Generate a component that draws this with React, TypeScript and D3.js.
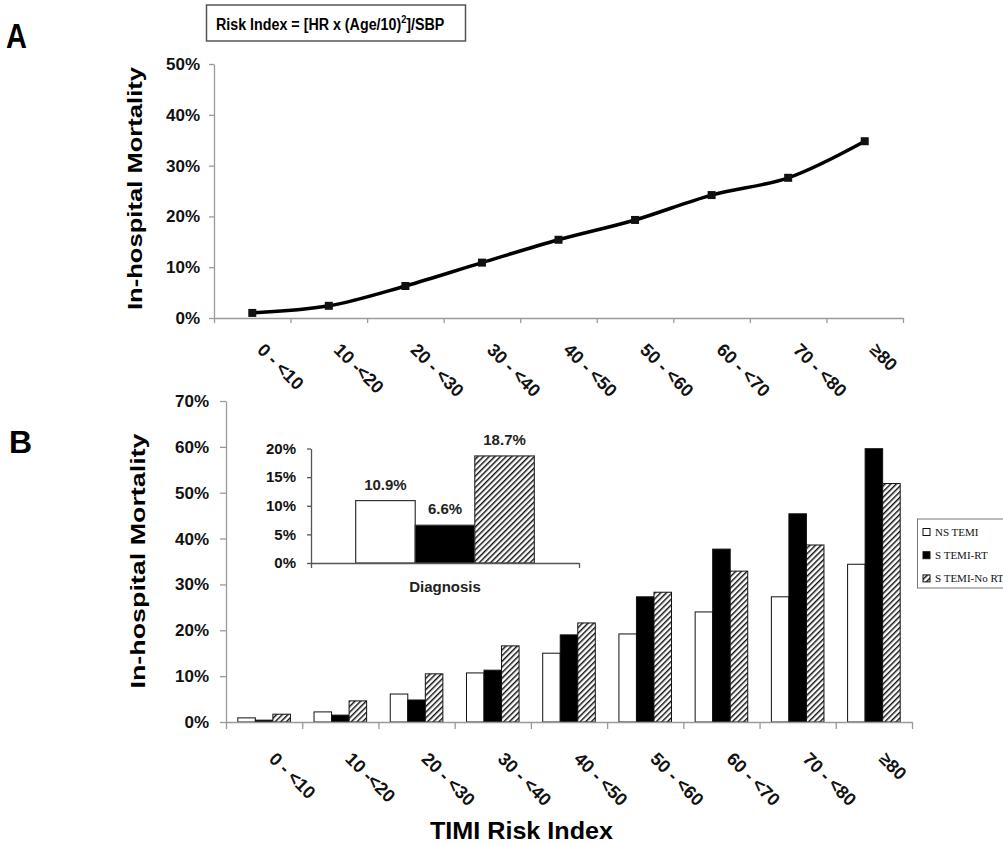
import * as d3 from "d3";
import React, { useEffect, useRef } from "react";

// TIMI risk index categories (shared by both panels)
const riskCats = ["0 - <10", "10 -<20", "20 - <30", "30 - <40", "40 - <50", "50 - <60", "60 - <70", "70 - <80", "≥80"];

// panel A: overall in-hospital mortality, %
const overallMortality = [1.0, 2.4, 6.3, 10.9, 15.4, 19.3, 24.2, 27.6, 34.8];

// panel B: mortality by diagnosis, %
const seriesKeys = ["nstemi", "stemiRt", "stemiNoRt"];
const seriesLabels = ["NS TEMI", "S TEMI-RT", "S TEMI-No RT"];
const nstemi = [0.9, 2.2, 6.1, 10.7, 15.0, 19.2, 24.0, 27.3, 34.4];
const stemiRt = [0.4, 1.5, 4.8, 11.3, 19.0, 27.3, 37.7, 45.4, 59.6];
const stemiNoRt = [1.7, 4.6, 10.5, 16.6, 21.6, 28.3, 32.9, 38.6, 52.0];

// inset: overall by diagnosis
const insetCat = ["Diagnosis"];
const diagnosisMortality = [10.9, 6.6, 18.7];
const diagnosisLabels = ["10.9%", "6.6%", "18.7%"];

const yTicksA = [0, 10, 20, 30, 40, 50];
const yTicksB = [0, 10, 20, 30, 40, 50, 60, 70];
const yTicksInset = [0, 5, 10, 15, 20];

const W = 1003;
const H = 845;
const AXIS = "#9a9a9a";
const FONT = "'Liberation Sans', Arial, sans-serif";

export default function App() {
  const ref = useRef(null);

  useEffect(() => {
    const svg = d3.select(ref.current);
    svg.selectAll("*").remove();

    // hatch pattern
    const defs = svg.append("defs");
    defs
      .append("pattern")
      .attr("id", "hatch")
      .attr("patternUnits", "userSpaceOnUse")
      .attr("width", 4)
      .attr("height", 4)
      .attr("patternTransform", "rotate(45)")
      .call((p) => p.append("rect").attr("width", 4).attr("height", 4).attr("fill", "#fff"))
      .append("line")
      .attr("x1", 0.7)
      .attr("y1", 0)
      .attr("x2", 0.7)
      .attr("y2", 4)
      .attr("stroke", "#111")
      .attr("stroke-width", 1.5);

    const fills = ["#fff", "#000", "url(#hatch)"];

    const styleAxis = (g, fontSize) => {
      g.selectAll(".domain").attr("stroke", AXIS).attr("stroke-width", 1.3);
      g.selectAll(".tick line").attr("stroke", AXIS).attr("stroke-width", 1.3);
      g.selectAll(".tick text")
        .attr("fill", "#111")
        .attr("font-family", FONT)
        .attr("font-weight", "bold")
        .attr("font-size", fontSize);
    };

    // ---------- panel A ----------
    const xA = d3.scaleBand().domain(riskCats).range([214, 903]);
    const xAedge = d3.scaleLinear().domain([0, riskCats.length]).range([214, 903]);
    const yA = d3.scaleLinear().domain([0, 50]).range([318, 64]);

    svg
      .append("g")
      .attr("transform", "translate(214,0)")
      .call(d3.axisLeft(yA).tickValues(yTicksA).tickFormat((d) => d + "%").tickSize(5).tickSizeOuter(0).tickPadding(9))
      .call((g) => styleAxis(g, 17));

    svg
      .append("g")
      .attr("transform", "translate(0,318)")
      .call(d3.axisBottom(xAedge).tickValues(d3.range(riskCats.length + 1)).tickFormat("").tickSize(5).tickSizeOuter(0))
      .call((g) => styleAxis(g, 17));

    svg
      .append("g")
      .selectAll("text")
      .data(riskCats)
      .join("text")
      .attr("transform", (d) => `translate(${xA(d) + xA.bandwidth() / 2 + 4},${318 + 33}) rotate(45)`)
      .attr("font-family", FONT)
      .attr("font-weight", "bold")
      .attr("font-size", 18)
      .attr("fill", "#111")
      .text((d) => d);

    const lineA = d3
      .line()
      .x((d, i) => xA(riskCats[i]) + xA.bandwidth() / 2)
      .y((d) => yA(d))
      .curve(d3.curveCatmullRom.alpha(0.5));

    svg
      .append("path")
      .datum(overallMortality)
      .attr("d", lineA)
      .attr("fill", "none")
      .attr("stroke", "#000")
      .attr("stroke-width", 3.5);

    svg
      .append("g")
      .selectAll("rect")
      .data(overallMortality)
      .join("rect")
      .attr("x", (d, i) => xA(riskCats[i]) + xA.bandwidth() / 2 - 4)
      .attr("y", (d) => yA(d) - 4)
      .attr("width", 8)
      .attr("height", 8)
      .attr("fill", "#111");

    svg
      .append("text")
      .attr("transform", "translate(142,188.5) rotate(-90)")
      .attr("text-anchor", "middle")
      .attr("font-family", FONT)
      .attr("font-weight", "bold")
      .attr("font-size", 21)
      .attr("textLength", 243)
      .attr("lengthAdjust", "spacingAndGlyphs")
      .text("In-hospital Mortality");

    // title box
    svg.append("rect").attr("x", 206.5).attr("y", 5).attr("width", 259).attr("height", 36).attr("fill", "#fff").attr("stroke", "#555").attr("stroke-width", 1.5);
    const title = svg
      .append("text")
      .attr("transform", "translate(216,30) scale(0.84,1)")
      .attr("font-family", FONT)
      .attr("font-weight", "bold")
      .attr("font-size", 17);
    title.append("tspan").text("Risk Index = [HR x (Age/10)");
    title.append("tspan").attr("dy", -7).attr("font-size", 11).text("2");
    title.append("tspan").attr("dy", 7).text("]/SBP");

    svg.append("text").attr("transform", "translate(6,48) scale(1,1.2)").attr("font-family", FONT).attr("font-weight", "bold").attr("font-size", 29).text("A");
    svg.append("text").attr("x", 9).attr("y", 453).attr("font-family", FONT).attr("font-weight", "bold").attr("font-size", 32).text("B");

    // ---------- panel B ----------
    const x0 = d3.scaleBand().domain(riskCats).range([226, 912]).paddingInner(0.31).paddingOuter(0.155);
    const x1 = d3.scaleBand().domain(seriesKeys).range([0, x0.bandwidth()]);
    const xBedge = d3.scaleLinear().domain([0, riskCats.length]).range([226, 912]);
    const yB = d3.scaleLinear().domain([0, 70]).range([722, 401]);

    const rows = riskCats.map((c, i) => ({ cat: c, nstemi: nstemi[i], stemiRt: stemiRt[i], stemiNoRt: stemiNoRt[i] }));

    svg
      .append("g")
      .selectAll("g")
      .data(rows)
      .join("g")
      .attr("transform", (d) => `translate(${x0(d.cat)},0)`)
      .selectAll("rect")
      .data((d) => seriesKeys.map((k, j) => ({ k, j, v: d[k] })))
      .join("rect")
      .attr("x", (d) => x1(d.k))
      .attr("y", (d) => yB(d.v))
      .attr("width", x1.bandwidth())
      .attr("height", (d) => yB(0) - yB(d.v))
      .attr("fill", (d) => fills[d.j])
      .attr("stroke", "#111")
      .attr("stroke-width", 1);

    svg
      .append("g")
      .attr("transform", "translate(226,0)")
      .call(d3.axisLeft(yB).tickValues(yTicksB).tickFormat((d) => d + "%").tickSize(6).tickSizeOuter(0).tickPadding(11))
      .call((g) => styleAxis(g, 17));

    svg
      .append("g")
      .attr("transform", "translate(0,722)")
      .call(d3.axisBottom(xBedge).tickValues(d3.range(riskCats.length + 1)).tickFormat("").tickSize(7).tickSizeOuter(0))
      .call((g) => styleAxis(g, 17));

    svg
      .append("g")
      .selectAll("text")
      .data(riskCats)
      .join("text")
      .attr("transform", (d) => `translate(${xBedge(riskCats.indexOf(d) + 0.5) + 4},${722 + 38}) rotate(45)`)
      .attr("font-family", FONT)
      .attr("font-weight", "bold")
      .attr("font-size", 18)
      .attr("fill", "#111")
      .text((d) => d);

    svg
      .append("text")
      .attr("transform", "translate(145,561) rotate(-90)")
      .attr("text-anchor", "middle")
      .attr("font-family", FONT)
      .attr("font-weight", "bold")
      .attr("font-size", 21)
      .attr("textLength", 255)
      .attr("lengthAdjust", "spacingAndGlyphs")
      .text("In-hospital Mortality");

    svg
      .append("text")
      .attr("x", 521.5)
      .attr("y", 839)
      .attr("text-anchor", "middle")
      .attr("font-family", FONT)
      .attr("font-weight", "bold")
      .attr("font-size", 24)
      .attr("textLength", 183)
      .attr("lengthAdjust", "spacingAndGlyphs")
      .text("TIMI Risk Index");

    // ---------- inset ----------
    const xi = d3.scaleBand().domain(insetCat).range([311, 579]).paddingOuter(0.25);
    const xi1 = d3.scaleBand().domain(seriesKeys).range([xi("Diagnosis"), xi("Diagnosis") + xi.bandwidth()]);
    const yi = d3.scaleLinear().domain([0, 20]).range([563, 448.5]);

    svg
      .append("g")
      .selectAll("rect")
      .data(diagnosisMortality)
      .join("rect")
      .attr("x", (d, i) => xi1(seriesKeys[i]))
      .attr("y", (d) => yi(d))
      .attr("width", xi1.bandwidth())
      .attr("height", (d) => yi(0) - yi(d))
      .attr("fill", (d, i) => fills[i])
      .attr("stroke", "#333")
      .attr("stroke-width", 1.2);

    svg
      .append("g")
      .selectAll("text")
      .data(diagnosisMortality)
      .join("text")
      .attr("x", (d, i) => xi1(seriesKeys[i]) + xi1.bandwidth() / 2)
      .attr("y", (d) => yi(d) - 11)
      .attr("text-anchor", "middle")
      .attr("font-family", FONT)
      .attr("font-weight", "bold")
      .attr("font-size", 15)
      .attr("fill", "#222")
      .text((d, i) => diagnosisLabels[i]);

    svg
      .append("g")
      .attr("transform", "translate(311,0)")
      .call(d3.axisLeft(yi).tickValues(yTicksInset).tickFormat((d) => d + "%").tickSize(4).tickSizeOuter(0).tickPadding(11))
      .call((g) => styleAxis(g, 15))
      .call((g) => g.selectAll(".domain, .tick line").attr("stroke", "#555"));

    svg
      .append("g")
      .attr("transform", "translate(0,563)")
      .call(d3.axisBottom(d3.scaleLinear().domain([0, 1]).range([311, 579])).tickValues([0, 1]).tickFormat("").tickSize(5).tickSizeOuter(0))
      .call((g) => styleAxis(g, 15))
      .call((g) => g.selectAll(".domain, .tick line").attr("stroke", "#555"));

    svg
      .append("text")
      .attr("x", xi("Diagnosis") + xi.bandwidth() / 2)
      .attr("y", 591.5)
      .attr("text-anchor", "middle")
      .attr("font-family", FONT)
      .attr("font-weight", "bold")
      .attr("font-size", 15)
      .attr("fill", "#222")
      .text(insetCat[0]);

    // ---------- legend ----------
    const lg = svg.append("g");
    lg.append("rect").attr("x", 917.5).attr("y", 519).attr("width", 100).attr("height", 69).attr("fill", "#fff").attr("stroke", "#777").attr("stroke-width", 1);
    const legRows = lg
      .selectAll("g")
      .data(seriesLabels)
      .join("g")
      .attr("transform", (d, i) => `translate(923,${532 + i * 23.2})`);
    legRows
      .append("rect")
      .attr("x", 0)
      .attr("y", -3.5)
      .attr("width", 7)
      .attr("height", 7)
      .attr("fill", (d, i) => fills[i])
      .attr("stroke", "#111")
      .attr("stroke-width", 1);
    legRows
      .append("text")
      .attr("x", 12)
      .attr("y", 4)
      .attr("font-family", "'Liberation Serif', 'Times New Roman', serif")
      .attr("font-size", 11)
      .attr("fill", "#111")
      .text((d) => d);
  }, []);

  return <svg ref={ref} width={W} height={H} style={{ position: "absolute", left: 0, top: 0, background: "#fff" }}></svg>;
}
